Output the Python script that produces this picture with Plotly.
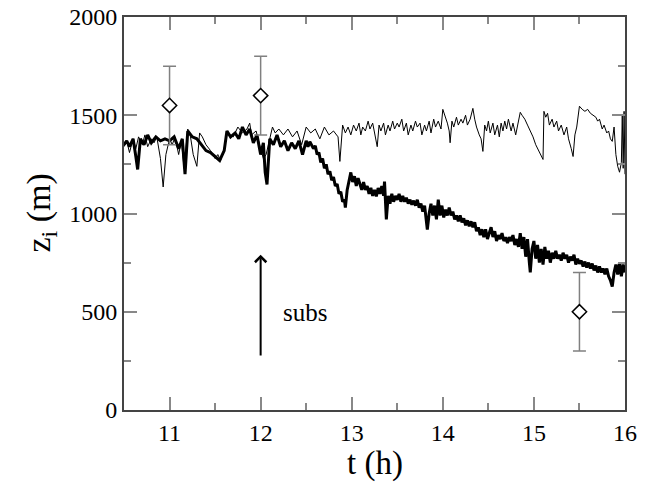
import plotly.graph_objects as go

# Thin line (series A)
t_a = [10.5,10.53,10.56,10.6,10.63,10.66,10.7,10.73,10.76,10.8,10.83,10.86,10.9,10.93,10.96,
       11.0,11.03,11.06,11.1,11.13,11.16,11.2,11.23,11.26,11.3,11.33,11.36,11.4,11.45,11.5,
       11.53,11.56,11.6,11.63,11.66,11.7,11.75,11.8,11.85,11.88,11.9,11.95,12.0,12.03,12.06,
       12.1,12.13,12.16,12.2,12.25,12.3,12.35,12.4,12.45,12.5,12.55,12.6,12.65,12.7,12.75,
       12.8,12.85,12.87,
       12.9,12.93,12.96,12.99,13.02,13.05,13.08,13.1,13.12,13.15,13.18,13.2,13.23,13.25,13.28,
       13.3,13.32,13.35,13.37,13.4,13.42,13.45,13.47,13.5,13.52,13.55,13.57,13.6,13.62,13.65,
       13.67,13.7,13.72,13.75,13.77,13.8,13.82,13.85,13.87,13.9,13.92,13.95,13.98,14.0,14.03,
       14.05,14.07,14.08,14.1,14.12,14.15,14.17,14.2,14.22,14.25,14.27,14.3,14.33,14.35,14.37,
       14.4,14.42,14.44,14.46,14.48,14.5,14.52,14.55,14.57,14.6,14.62,14.64,14.66,14.68,14.7,
       14.72,14.75,14.77,14.8,14.82,14.85,14.87,14.9,14.93,14.96,14.99,15.02,15.05,15.08,15.1,
       15.11,15.13,15.15,15.17,15.2,15.22,15.25,15.27,15.3,15.33,15.36,15.38,15.41,15.43,15.45,
       15.47,15.5,15.53,15.56,15.59,15.62,15.65,15.68,15.7,15.72,15.75,15.77,15.8,15.82,15.84,
       15.86,15.88,15.9,15.92,15.94,15.96,15.97,15.98,15.99,16.0]
z_a = [1340,1370,1310,1380,1330,1390,1350,1400,1340,1380,1360,1390,1280,1135,1300,
       1380,1350,1390,1300,1370,1230,1430,1390,1300,1240,1410,1390,1350,1320,1280,
       1300,1270,1330,1420,1400,1390,1440,1410,1430,1460,1400,1420,1330,1280,1300,
       1380,1440,1410,1430,1400,1430,1390,1420,1350,1440,1410,1430,1380,1440,1400,
       1420,1390,1265,
       1450,1410,1440,1400,1450,1420,1460,1400,1440,1420,1470,1430,1460,1410,1340,
       1450,1420,1460,1400,1450,1420,1470,1430,1460,1440,1480,1420,1460,1400,1450,
       1420,1470,1440,1460,1400,1450,1420,1470,1410,1480,1440,1470,1430,1530,1490,
       1460,1420,1360,1470,1440,1490,1450,1480,1460,1500,1450,1480,1535,1480,1440,
       1400,1380,1316,1450,1420,1470,1410,1460,1400,1450,1390,1460,1420,1470,1430,
       1480,1420,1460,1400,1450,1515,1500,1480,1450,1420,1390,1350,1320,1290,1275,
       1520,1490,1510,1450,1480,1440,1470,1420,1450,1400,1440,1380,1330,1290,1400,
       1440,1546,1530,1520,1530,1510,1500,1490,1470,1480,1430,1450,1410,1420,1380,
       1367,1440,1300,1240,1210,1260,1500,1230,1520,1200]

# Thick line (series B)
t_b = [10.5,10.53,10.56,10.6,10.63,10.65,10.68,10.72,10.76,10.8,10.85,10.9,10.95,11.0,11.05,
       11.1,11.14,11.17,11.2,11.25,11.3,11.35,11.4,11.45,11.5,11.55,11.6,11.63,11.67,11.72,
       11.76,11.8,11.84,11.88,11.92,11.96,12.0,12.03,12.05,12.07,12.1,12.14,12.18,12.22,12.26,
       12.3,12.34,12.38,12.42,12.46,
       12.5,12.52,12.54,12.56,12.58,12.6,12.62,12.64,12.66,12.68,12.7,12.72,12.74,12.76,12.78,
       12.8,12.82,12.84,12.86,12.88,12.9,12.92,12.93,12.95,12.97,12.99,13.01,13.03,13.05,13.07,
       13.09,13.11,13.13,13.15,13.17,13.19,13.21,13.23,13.25,13.27,13.29,13.31,13.33,13.35,13.36,
       13.38,13.4,13.42,13.44,13.46,13.48,13.5,13.52,13.54,13.56,13.58,13.6,13.62,13.64,13.66,
       13.68,13.7,13.72,13.74,13.76,13.78,13.8,13.82,13.83,13.85,13.87,13.89,13.91,13.93,13.95,
       13.97,13.99,14.01,14.03,14.05,14.07,14.09,14.11,14.13,14.15,14.17,14.19,14.21,14.23,14.25,
       14.27,14.29,14.31,14.33,14.35,14.37,14.39,14.41,14.43,14.45,14.47,14.49,14.51,14.53,14.55,
       14.57,14.59,14.61,14.63,14.65,14.67,14.69,14.71,14.73,14.75,14.77,14.79,14.81,14.83,14.85,
       14.87,14.89,14.91,14.93,14.95,14.96,14.98,15.0,15.02,15.04,15.06,15.08,15.1,15.12,15.14,
       15.16,15.18,15.2,15.22,15.24,15.26,15.28,15.3,15.32,15.34,15.36,15.38,15.4,15.42,15.44,
       15.46,15.48,15.5,15.52,15.54,15.56,15.58,15.6,15.62,15.64,15.66,15.68,15.7,15.72,15.74,
       15.76,15.78,15.8,15.82,15.84,15.86,15.88,15.9,15.92,15.94,15.96,15.98,16.0]
z_b = [1350,1370,1340,1380,1290,1224,1380,1350,1400,1360,1390,1370,1380,1370,1390,
       1330,1380,1200,1420,1390,1380,1350,1320,1310,1290,1270,1320,1420,1390,1410,
       1380,1440,1400,1430,1360,1400,1300,1360,1210,1148,1380,1350,1400,1340,1370,
       1320,1360,1330,1370,1300,
       1370,1340,1365,1350,1330,1345,1300,1310,1260,1280,1230,1250,1200,1215,1170,
       1185,1140,1150,1100,1110,1060,1070,1030,1120,1160,1209,1160,1190,1140,1180,
       1150,1120,1160,1120,1140,1100,1130,1090,1120,1087,1130,1100,1140,1090,1163,
       970,1090,1050,1100,1060,1090,1070,1100,1060,1090,1060,1080,1050,1070,1045,
       1065,1040,1070,1030,1050,1010,1040,970,918,1000,1050,990,1040,970,1070,
       990,1040,980,1020,990,1030,990,1010,970,990,960,990,955,975,940,
       965,935,960,930,955,910,930,890,920,880,920,870,900,930,880,
       910,860,890,870,900,860,880,850,880,860,890,840,870,830,900,
       820,880,780,870,750,700,820,860,770,840,750,820,740,830,770,
       810,750,800,770,810,770,790,760,800,770,790,750,780,760,790,
       740,770,745,760,730,755,725,750,720,745,710,735,700,730,700,
       720,690,720,680,660,628,700,740,690,750,680,740,700]

# Observations with error bars
obs_t = [11.0, 12.0, 15.5]
obs_z = [1550, 1600, 500]
obs_err = [200, 200, 200]

# Arrow annotation
arrow_t = 12.0
arrow_from = 270
arrow_to = 790
subs_t = 12.22
subs_z = 495

serif = "Liberation Serif"

fig = go.Figure()
fig.add_trace(go.Scatter(x=t_a, y=z_a, mode="lines",
                         line=dict(color="black", width=1), showlegend=False))
fig.add_trace(go.Scatter(x=t_b, y=z_b, mode="lines",
                         line=dict(color="black", width=3), showlegend=False))
fig.add_trace(go.Scatter(x=obs_t, y=obs_z, mode="markers",
                         error_y=dict(type="data", array=obs_err, color="#808080",
                                      thickness=1.5, width=6.5),
                         marker=dict(symbol="diamond", size=11, color="white",
                                     line=dict(color="black", width=1.5)),
                         showlegend=False))

fig.add_annotation(x=arrow_t, y=arrow_to, ax=arrow_t, ay=arrow_from,
                   xref="x", yref="y", axref="x", ayref="y",
                   text="", showarrow=True, arrowhead=4, arrowsize=1.1,
                   arrowwidth=2, arrowcolor="black")
fig.add_annotation(x=subs_t, y=subs_z, xref="x", yref="y", text="subs",
                   showarrow=False, xanchor="left", yanchor="middle",
                   font=dict(family=serif, size=25, color="black"))

# axis titles
fig.add_annotation(x=0.5, y=0, xref="paper", yref="paper", text="t (h)",
                   showarrow=False, xanchor="center", yanchor="middle", yshift=-53,
                   font=dict(family=serif, size=33, color="black"))
fig.add_annotation(x=0, y=0.5, xref="paper", yref="paper", text="z<sub>i</sub> (m)",
                   showarrow=False, xanchor="center", yanchor="middle", xshift=-84,
                   textangle=-90, font=dict(family=serif, size=34, color="black"))

axis_common = dict(showgrid=False, zeroline=False, showline=True, linecolor="#444",
                   linewidth=2, mirror="allticks", ticks="inside", tickcolor="#888",
                   tickwidth=1.5, ticklen=13, automargin=False, ticklabeloverflow="allow",
                   tickfont=dict(family=serif, size=24, color="black"))

fig.update_xaxes(range=[10.5, 16], tickvals=[11, 12, 13, 14, 15, 16],
                 minor=dict(ticks="inside", ticklen=7, dtick=0.5, tick0=10.5,
                            tickcolor="#888", tickwidth=1.5),
                 **axis_common)
fig.update_yaxes(range=[0, 2000], tickvals=[0, 500, 1000, 1500, 2000],
                 minor=dict(ticks="inside", ticklen=7, dtick=250,
                            tickcolor="#888", tickwidth=1.5),
                 **axis_common)

fig.update_layout(width=638, height=476, plot_bgcolor="white", paper_bgcolor="white",
                  margin=dict(l=116, r=21, t=9, b=74))

fig.write_html("out.html")
